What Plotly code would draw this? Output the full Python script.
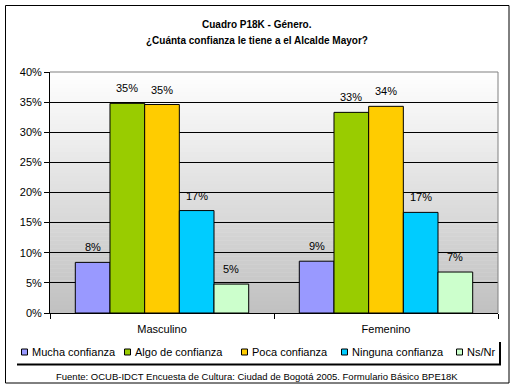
import plotly.graph_objects as go

# ---- data ----
categories = ["Masculino", "Femenino"]
series_names = ["Mucha confianza", "Algo de confianza", "Poca confianza", "Ninguna confianza", "Ns/Nr"]
mucha = [8.4, 8.6]
algo = [34.8, 33.3]
poca = [34.6, 34.3]
ninguna = [17.0, 16.7]
nsnr = [4.8, 6.8]
y_ticks = [0, 5, 10, 15, 20, 25, 30, 35, 40]
y_tick_labels = [f"{v}%" for v in y_ticks]
title_lines = ["Cuadro P18K - Género.", "¿Cuánta confianza le tiene a el Alcalde Mayor?"]
source_note = "Fuente: OCUB-IDCT Encuesta de Cultura: Ciudad de Bogotá 2005. Formulario Básico BPE18K"

series_values = [mucha, algo, poca, ninguna, nsnr]
colors = ["#9999FF", "#99CC00", "#FFCC00", "#00CCFF", "#CCFFCC"]

W, H = 515, 391
PX0, PX1, PY0, PY1 = 50, 498, 72, 313  # plot area in pixels
BARGAP = 0.226
FONT = "Liberation Sans, Arial, sans-serif"


def xp(px):
    return (px - PX0) / (PX1 - PX0)


def yp(py):
    return (PY1 - py) / (PY1 - PY0)


fig = go.Figure()
for name, vals, col in zip(series_names, series_values, colors):
    fig.add_trace(go.Bar(
        x=categories, y=vals, name=name, showlegend=False,
        marker=dict(color=col, line=dict(color="black", width=1)),
        hoverinfo="x+y+name",
    ))

shapes = []
# gradient background of plot area
N = 60
for i in range(N):
    t = (i + 0.5) / N  # 0 at bottom, 1 at top
    g = int(round(192 + (255 - 192) * t))
    shapes.append(dict(type="rect", xref="x domain", yref="y domain",
                       x0=0, x1=1, y0=i / N, y1=(i + 1) / N + 0.002,
                       fillcolor=f"rgb({g},{g},{g})", line=dict(width=0),
                       layer="below"))
# gray top and right border of plot area
shapes.append(dict(type="line", xref="paper", yref="paper", x0=0, x1=1, y0=1, y1=1,
                   line=dict(color="#808080", width=1), layer="above"))
shapes.append(dict(type="line", xref="paper", yref="paper", x0=1, x1=1, y0=0, y1=1,
                   line=dict(color="#808080", width=1), layer="above"))
# outer chart border
shapes.append(dict(type="rect", xref="paper", yref="paper",
                   x0=xp(5.5), x1=xp(509), y0=yp(383), y1=yp(5.5),
                   line=dict(color="black", width=1), fillcolor="rgba(0,0,0,0)"))
# legend shadow
shapes.append(dict(type="line", xref="paper", yref="paper",
                   x0=xp(17), x1=xp(501), y0=yp(364.5), y1=yp(364.5),
                   line=dict(color="black", width=2)))
shapes.append(dict(type="line", xref="paper", yref="paper",
                   x0=xp(500), x1=xp(500), y0=yp(365), y1=yp(342),
                   line=dict(color="black", width=2)))

annotations = []
# data labels above bars
w = (1 - BARGAP) / len(series_names)
for si, vals in enumerate(series_values):
    for ci, v in enumerate(vals):
        annotations.append(dict(
            x=ci + (si - (len(series_names) - 1) / 2) * w, y=v, xref="x", yref="y",
            text=f"{v:.0f}%", showarrow=False, yanchor="middle", yshift=15,
            font=dict(family=FONT, size=11, color="black")))

# custom legend
legend_text_x = [32, 135, 252, 352, 467]
legend_y = 352
for name, col, tx in zip(series_names, colors, legend_text_x):
    shapes.append(dict(type="rect", xref="paper", yref="paper",
                       x0=xp(tx - 10.5), x1=xp(tx - 4.5), y0=yp(355), y1=yp(349),
                       fillcolor=col, line=dict(color="black", width=1)))
    annotations.append(dict(x=xp(tx - 2), y=yp(legend_y), xref="paper", yref="paper",
                            text=name, showarrow=False, xanchor="left", yanchor="middle",
                            font=dict(family=FONT, size=11, color="black")))

# titles
annotations.append(dict(x=xp(257), y=yp(24.7), xref="paper", yref="paper",
                        text=f"<b>{title_lines[0]}</b>", showarrow=False,
                        xanchor="center", yanchor="middle",
                        font=dict(family=FONT, size=10, color="black")))
annotations.append(dict(x=xp(257), y=yp(40.7), xref="paper", yref="paper",
                        text=f"<b>{title_lines[1]}</b>", showarrow=False,
                        xanchor="center", yanchor="middle",
                        font=dict(family=FONT, size=10, color="black")))
# source note
annotations.append(dict(x=xp(257), y=yp(376.5), xref="paper", yref="paper",
                        text=source_note, showarrow=False,
                        xanchor="center", yanchor="middle",
                        font=dict(family=FONT, size=9.5, color="black")))

fig.update_layout(
    width=W, height=H,
    margin=dict(l=PX0, r=W - PX1, t=PY0, b=H - PY1, pad=0),
    paper_bgcolor="white", plot_bgcolor="rgba(0,0,0,0)",
    barmode="group", bargap=BARGAP, bargroupgap=0,
    showlegend=False,
    font=dict(family=FONT, size=11, color="black"),
    shapes=shapes, annotations=annotations,
    xaxis=dict(type="category", showline=True, linecolor="black", linewidth=1,
               ticks="outside", ticklen=5, tickcolor="black", tickson="boundaries",
               showgrid=False, ticklabelstandoff=6,
               tickfont=dict(family=FONT, size=11, color="black")),
    yaxis=dict(range=[0, 40], tickmode="array", tickvals=y_ticks, ticktext=y_tick_labels,
               showline=True, linecolor="black", linewidth=1,
               ticks="outside", ticklen=5, tickcolor="black",
               showgrid=True, gridcolor="black", gridwidth=1, zeroline=False,
               tickfont=dict(family=FONT, size=11, color="black")),
)

fig.write_html("out.html", config={"displayModeBar": False},
               post_script="document.body.style.margin='0';document.body.style.padding='0';")
